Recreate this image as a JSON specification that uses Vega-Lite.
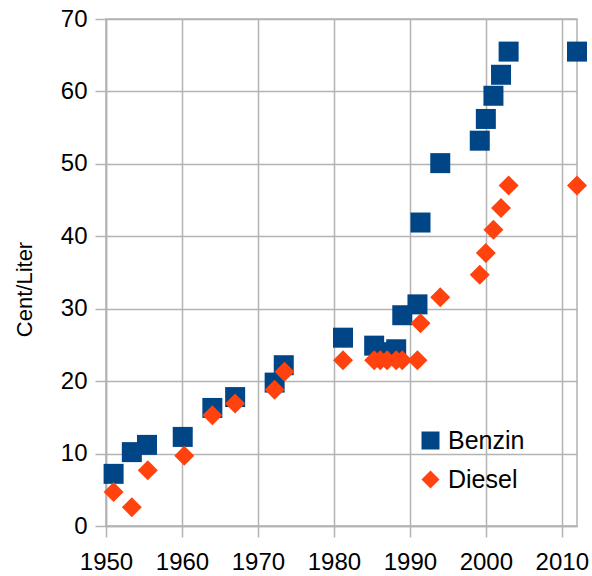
{
  "$schema": "https://vega.github.io/schema/vega-lite/v6.json",
  "width": 471,
  "height": 507,
  "autosize": {"type": "none"},
  "padding": {"left": 106, "top": 19, "right": 15, "bottom": 50},
  "background": "white",
  "config": {
    "font": "Liberation Sans",
    "view": {"stroke": "#b3b3b3", "strokeWidth": 1.5},
    "axis": {
      "gridColor": "#b3b3b3",
      "gridWidth": 1.5,
      "domainColor": "#b3b3b3",
      "domainWidth": 1.5,
      "tickColor": "#b3b3b3",
      "tickWidth": 1.5,
      "tickSize": 11,
      "labelFontSize": 24,
      "labelColor": "black",
      "titleFontWeight": "normal",
      "titleColor": "black"
    }
  },
  "data": {
    "values": [
      {"year": 1951, "price": 7.2, "type": "Benzin"},
      {"year": 1953.4, "price": 10.2, "type": "Benzin"},
      {"year": 1955.4, "price": 11.2, "type": "Benzin"},
      {"year": 1960.1, "price": 12.3, "type": "Benzin"},
      {"year": 1964, "price": 16.3, "type": "Benzin"},
      {"year": 1967, "price": 17.8, "type": "Benzin"},
      {"year": 1972.2, "price": 19.8, "type": "Benzin"},
      {"year": 1973.4, "price": 22.2, "type": "Benzin"},
      {"year": 1981.2, "price": 26.0, "type": "Benzin"},
      {"year": 1985.3, "price": 24.9, "type": "Benzin"},
      {"year": 1986.1, "price": 23.6, "type": "Benzin"},
      {"year": 1987.0, "price": 24.0, "type": "Benzin"},
      {"year": 1988.2, "price": 24.4, "type": "Benzin"},
      {"year": 1989.0, "price": 29.1, "type": "Benzin"},
      {"year": 1991.0, "price": 30.6, "type": "Benzin"},
      {"year": 1991.4, "price": 41.9, "type": "Benzin"},
      {"year": 1994, "price": 50.1, "type": "Benzin"},
      {"year": 1999.2, "price": 53.2, "type": "Benzin"},
      {"year": 2000, "price": 56.2, "type": "Benzin"},
      {"year": 2001, "price": 59.4, "type": "Benzin"},
      {"year": 2002, "price": 62.3, "type": "Benzin"},
      {"year": 2003, "price": 65.5, "type": "Benzin"},
      {"year": 2012, "price": 65.5, "type": "Benzin"},
      {"year": 1951, "price": 4.7, "type": "Diesel"},
      {"year": 1953.4, "price": 2.6, "type": "Diesel"},
      {"year": 1955.5, "price": 7.7, "type": "Diesel"},
      {"year": 1960.3, "price": 9.7, "type": "Diesel"},
      {"year": 1964, "price": 15.3, "type": "Diesel"},
      {"year": 1967, "price": 16.9, "type": "Diesel"},
      {"year": 1972.2, "price": 18.8, "type": "Diesel"},
      {"year": 1973.5, "price": 21.3, "type": "Diesel"},
      {"year": 1981.2, "price": 22.9, "type": "Diesel"},
      {"year": 1985.3, "price": 22.9, "type": "Diesel"},
      {"year": 1986.1, "price": 22.9, "type": "Diesel"},
      {"year": 1987.0, "price": 22.9, "type": "Diesel"},
      {"year": 1988.2, "price": 22.9, "type": "Diesel"},
      {"year": 1989.0, "price": 22.9, "type": "Diesel"},
      {"year": 1991.0, "price": 22.9, "type": "Diesel"},
      {"year": 1991.4, "price": 28.0, "type": "Diesel"},
      {"year": 1994, "price": 31.6, "type": "Diesel"},
      {"year": 1999.2, "price": 34.7, "type": "Diesel"},
      {"year": 2000, "price": 37.7, "type": "Diesel"},
      {"year": 2001, "price": 40.9, "type": "Diesel"},
      {"year": 2002, "price": 43.9, "type": "Diesel"},
      {"year": 2003, "price": 47.0, "type": "Diesel"},
      {"year": 2012, "price": 47.0, "type": "Diesel"}
    ]
  },
  "mark": {"type": "point", "filled": true, "opacity": 1},
  "encoding": {
    "x": {
      "field": "year",
      "type": "quantitative",
      "scale": {"domain": [1950, 2012], "nice": false, "zero": false},
      "axis": {"values": [1950, 1960, 1970, 1980, 1990, 2000, 2010], "format": "d", "title": null, "labelPadding": 13, "labelFlush": false}
    },
    "y": {
      "field": "price",
      "type": "quantitative",
      "scale": {"domain": [0, 70], "nice": false},
      "axis": {"values": [0, 10, 20, 30, 40, 50, 60, 70], "title": "Cent/Liter", "titleFontSize": 22, "titleX": -75, "titleY": 270, "titleAngle": -90, "titleBaseline": "alphabetic", "labelPadding": 8, "labelFlush": false}
    },
    "color": {
      "field": "type",
      "type": "nominal",
      "scale": {"domain": ["Benzin", "Diesel"], "range": ["#004586", "#ff420e"]},
      "legend": {"title": null, "orient": "none", "legendX": 312, "legendY": 409, "labelFontSize": 25, "labelColor": "black", "symbolSize": 324, "rowPadding": 13, "labelOffset": 5}
    },
    "shape": {
      "field": "type",
      "type": "nominal",
      "scale": {"domain": ["Benzin", "Diesel"], "range": ["square", "diamond"]}
    },
    "size": {"value": 400}
  }
}
